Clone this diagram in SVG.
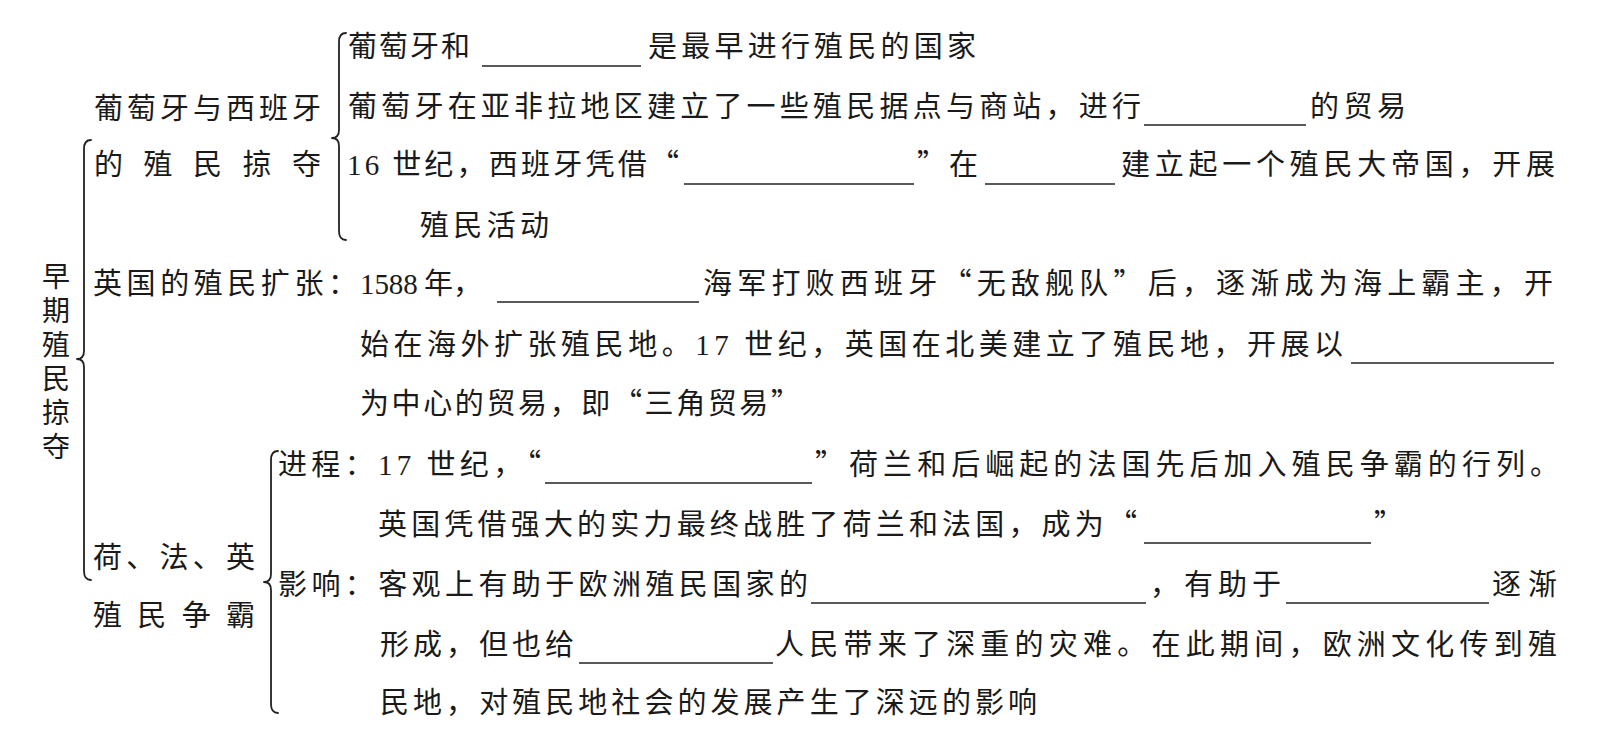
<svg xmlns="http://www.w3.org/2000/svg" width="1607" height="735" viewBox="0 0 1607 735">
<style>
text { font-family: "Noto Sans CJK SC", "Noto Sans", sans-serif; font-size: 29px; fill: #1a1a1a; }
.n { font-family: "Liberation Serif", "Noto Sans CJK SC", serif; }
.v { font-size: 28px; writing-mode: vertical-rl; }
.blank { stroke: #222; stroke-width: 1.6; }
.brace { fill: none; stroke: #222; stroke-width: 1.8; stroke-linecap: round; stroke-linejoin: round; }
</style>
<rect width="1607" height="735" fill="#fff"/>

<g id="connectors">
  <path class="brace" d="M346,33 Q339,33 339,42 L339,130 Q339,138 332,138 Q339,138 339,146 L339,231 Q339,240 346,240"/>
  <path class="brace" d="M91,140 Q84,140 84,149 L84,351 Q84,359 77,359 Q84,359 84,367 L84,571 Q84,580 91,580"/>
  <path class="brace" d="M278,451 Q271,451 271,460 L271,574 Q271,582 264,582 Q271,582 271,590 L271,704 Q271,713 278,713"/>
</g>

<g id="root">
  <text class="v" x="56" y="262" textLength="198" lengthAdjust="spacing">早期殖民掠夺</text>
</g>

<g id="node-portugal-spain">
  <text x="94" y="119" textLength="227" lengthAdjust="spacing">葡萄牙与西班牙</text>
  <text x="94" y="175" textLength="227" lengthAdjust="spacing">的殖民掠夺</text>
</g>

<g id="node-ps-1">
  <text x="348" y="57" textLength="122" lengthAdjust="spacing">葡萄牙和</text>
  <line class="blank" x1="482" y1="66" x2="641" y2="66"/>
  <text x="648" y="57" textLength="328" lengthAdjust="spacing">是最早进行殖民的国家</text>
</g>

<g id="node-ps-2">
  <text x="348" y="117" textLength="793" lengthAdjust="spacing">葡萄牙在亚非拉地区建立了一些殖民据点与商站，进行</text>
  <line class="blank" x1="1144" y1="125" x2="1306" y2="125"/>
  <text x="1310" y="117" textLength="96" lengthAdjust="spacing">的贸易</text>
</g>

<g id="node-ps-3">
  <text x="347" y="175" textLength="332" lengthAdjust="spacing"><tspan class="n">16</tspan> 世纪，西班牙凭借“</text>
  <line class="blank" x1="684" y1="184" x2="914" y2="184"/>
  <text x="917" y="175" textLength="61" lengthAdjust="spacing">”在</text>
  <line class="blank" x1="985" y1="184" x2="1115" y2="184"/>
  <text x="1121" y="175" textLength="434" lengthAdjust="spacing">建立起一个殖民大帝国，开展</text>
  <text x="420" y="236" textLength="129" lengthAdjust="spacing">殖民活动</text>
</g>

<g id="node-england">
  <text x="93" y="294" textLength="264" lengthAdjust="spacing">英国的殖民扩张：</text>
  <text x="360" y="294" textLength="122" lengthAdjust="spacing"><tspan class="n">1588</tspan> 年，</text>
  <line class="blank" x1="497" y1="302" x2="699" y2="302"/>
  <text x="703" y="294" textLength="850" lengthAdjust="spacing">海军打败西班牙“无敌舰队”后，逐渐成为海上霸主，开</text>
  <text x="360" y="355" textLength="983" lengthAdjust="spacing">始在海外扩张殖民地。<tspan class="n">17</tspan> 世纪，英国在北美建立了殖民地，开展以</text>
  <line class="blank" x1="1351" y1="363" x2="1554" y2="363"/>
  <text x="360" y="414" textLength="440" lengthAdjust="spacing">为中心的贸易，即“三角贸易”</text>
</g>

<g id="node-rivalry">
  <text x="93" y="568" textLength="162" lengthAdjust="spacing">荷、法、英</text>
  <text x="93" y="626" textLength="162" lengthAdjust="spacing">殖民争霸</text>
</g>

<g id="node-process">
  <text x="278" y="475" textLength="263" lengthAdjust="spacing">进程：<tspan class="n">17</tspan> 世纪，“</text>
  <line class="blank" x1="545" y1="483" x2="812" y2="483"/>
  <text x="815" y="475" textLength="744" lengthAdjust="spacing">”荷兰和后崛起的法国先后加入殖民争霸的行列。</text>
  <text x="378" y="535" textLength="759" lengthAdjust="spacing">英国凭借强大的实力最终战胜了荷兰和法国，成为“</text>
  <line class="blank" x1="1144" y1="543" x2="1371" y2="543"/>
  <text x="1374" y="535">”</text>
</g>

<g id="node-impact">
  <text x="278" y="595" textLength="530" lengthAdjust="spacing">影响：客观上有助于欧洲殖民国家的</text>
  <line class="blank" x1="811" y1="603" x2="1146" y2="603"/>
  <text x="1150" y="595" textLength="131" lengthAdjust="spacing">，有助于</text>
  <line class="blank" x1="1286" y1="603" x2="1489" y2="603"/>
  <text x="1492" y="595" textLength="65" lengthAdjust="spacing">逐渐</text>
  <text x="380" y="655" textLength="194" lengthAdjust="spacing">形成，但也给</text>
  <line class="blank" x1="579" y1="663" x2="773" y2="663"/>
  <text x="775" y="655" textLength="782" lengthAdjust="spacing">人民带来了深重的灾难。在此期间，欧洲文化传到殖</text>
  <text x="380" y="713" textLength="657" lengthAdjust="spacing">民地，对殖民地社会的发展产生了深远的影响</text>
</g>
</svg>
